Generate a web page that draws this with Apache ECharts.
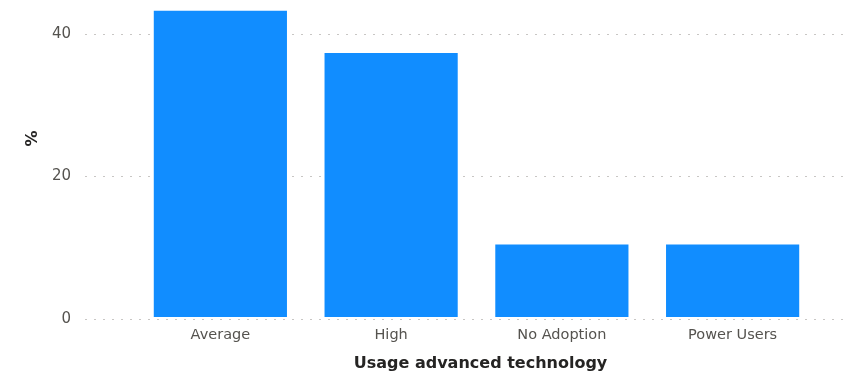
<!DOCTYPE html>
<html>
<head>
<meta charset="utf-8">
<script src="https://cdn.jsdelivr.net/npm/echarts@6/dist/echarts.min.js"></script>
<style>
html,body{margin:0;padding:0;background:#fff;}
#chart{width:854px;height:377px;}
</style>
</head>
<body>
<div id="chart"></div>
<script>
const categories = ["Average", "High", "No Adoption", "Power Users"];
const values = [43.3, 37.3, 10.25, 10.25];
const yTicks = [0, 20, 40];

const FONT = "'DejaVu Sans', sans-serif";
const chart = echarts.init(document.getElementById('chart'), null, {renderer: 'canvas'});
chart.setOption({
  animation: false,
  textStyle: {fontFamily: FONT},
  grid: [
    {left: 85, right: 9, top: 34, bottom: 58},
    {left: 135, right: 36, top: 34, bottom: 58}
  ],
  xAxis: [
    {gridIndex: 0, type: 'category', data: categories, show: false},
    {
      gridIndex: 1, type: 'category', data: categories,
      axisLine: {show: false}, axisTick: {show: false},
      axisLabel: {color: '#55534F', fontSize: 14.5, margin: 11, fontFamily: FONT},
      name: 'Usage advanced technology', nameLocation: 'middle', nameGap: 39,
      nameTextStyle: {color: '#252423', fontSize: 16, fontWeight: 'bold', fontFamily: FONT, padding: [0, 0, 0, 8]}
    }
  ],
  yAxis: [
    {
      gridIndex: 0, type: 'value', min: yTicks[0], max: yTicks[yTicks.length - 1], interval: 20,
      axisLine: {show: false}, axisTick: {show: false},
      axisLabel: {color: '#55534F', fontSize: 15, margin: 14, fontFamily: FONT},
      splitLine: {show: true, lineStyle: {color: '#C8C6C4', type: [2, 7], width: 1}},
      name: '%', nameLocation: 'middle', nameGap: 43, nameRotate: 90,
      nameTextStyle: {color: '#252423', fontSize: 16, fontWeight: 'bold', fontFamily: FONT, padding: [0, 0, 0, 76]}
    },
    {
      gridIndex: 1, type: 'value', min: yTicks[0], max: yTicks[yTicks.length - 1], interval: 20,
      show: false, splitLine: {show: false}
    }
  ],
  series: [{
    type: 'bar', xAxisIndex: 1, yAxisIndex: 1, data: values,
    barCategoryGap: '22%', clip: false,
    itemStyle: {color: '#118DFF'}
  }]
});
</script>
</body>
</html>
